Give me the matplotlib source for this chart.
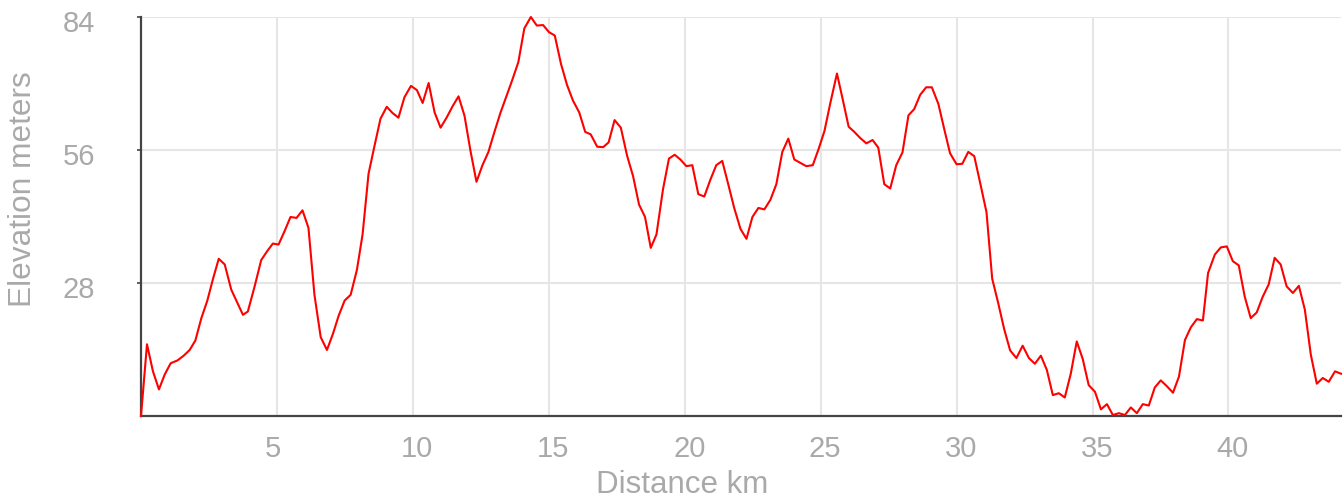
import matplotlib
matplotlib.use("Agg")
import matplotlib.pyplot as plt
from matplotlib.transforms import ScaledTranslation

distance_km = [
    0.0, 0.22, 0.44, 0.66, 0.87, 1.09, 1.34, 1.57, 1.79, 2.0,
    2.22, 2.44, 2.65, 2.86, 3.08, 3.32, 3.54, 3.75, 3.93, 4.18,
    4.42, 4.64, 4.85, 5.06, 5.28, 5.5, 5.72, 5.94, 6.16, 6.38,
    6.61, 6.84, 7.06, 7.27, 7.49, 7.71, 7.94, 8.15, 8.37, 8.59,
    8.81, 9.04, 9.25, 9.47, 9.69, 9.93, 10.15, 10.36, 10.58, 10.8,
    11.02, 11.24, 11.46, 11.68, 11.9, 12.12, 12.34, 12.56, 12.78, 13.0,
    13.22, 13.44, 13.66, 13.88, 14.1, 14.34, 14.56, 14.79, 15.01, 15.22,
    15.45, 15.67, 15.89, 16.12, 16.34, 16.54, 16.78, 17.0, 17.2, 17.42,
    17.65, 17.88, 18.1, 18.32, 18.54, 18.75, 18.96, 19.2, 19.42, 19.63,
    19.84, 20.06, 20.28, 20.5, 20.72, 20.94, 21.16, 21.38, 21.6, 21.82,
    22.05, 22.27, 22.49, 22.71, 22.93, 23.15, 23.37, 23.59, 23.81, 24.03,
    24.25, 24.47, 24.71, 24.93, 25.14, 25.36, 25.6, 25.81, 26.03, 26.24,
    26.46, 26.68, 26.91, 27.12, 27.34, 27.56, 27.78, 28.01, 28.23, 28.44,
    28.66, 28.88, 29.09, 29.33, 29.55, 29.76, 30.0, 30.21, 30.43, 30.65,
    30.87, 31.1, 31.31, 31.53, 31.75, 31.97, 32.2, 32.43, 32.66, 32.88,
    33.1, 33.32, 33.54, 33.76, 33.98, 34.2, 34.42, 34.64, 34.86, 35.09,
    35.31, 35.53, 35.75, 35.97, 36.19, 36.41, 36.63, 36.85, 37.07, 37.29,
    37.51, 37.73, 37.96, 38.18, 38.4, 38.62, 38.84, 39.06, 39.25, 39.5,
    39.72, 39.94, 40.16, 40.38, 40.6, 40.82, 41.04, 41.26, 41.48, 41.7,
    41.92, 42.14, 42.37, 42.59, 42.81, 43.03, 43.25, 43.47, 43.69, 43.92,
    44.14,
]

elevation_m = [
    0.0, 15.1, 9.4, 5.6, 8.7, 11.1, 11.7, 12.7, 13.9, 15.9,
    20.6, 24.3, 28.9, 33.1, 31.9, 26.6, 23.9, 21.3, 22.0, 27.3,
    32.8, 34.7, 36.3, 36.1, 38.9, 41.9, 41.7, 43.3, 39.6, 25.5,
    16.6, 13.9, 17.3, 21.1, 24.3, 25.5, 30.7, 38.2, 51.0, 56.9,
    62.6, 65.1, 63.8, 62.8, 67.1, 69.5, 68.6, 65.9, 70.1, 63.9,
    60.7, 62.8, 65.2, 67.3, 63.2, 55.8, 49.3, 52.8, 55.6, 59.8,
    63.8, 67.3, 70.8, 74.5, 81.6, 84.0, 82.2, 82.3, 80.8, 80.1,
    74.1, 69.7, 66.4, 63.9, 59.8, 59.3, 56.7, 56.6, 57.6, 62.3,
    60.7, 54.8, 50.5, 44.5, 41.9, 35.4, 38.2, 47.7, 54.2, 55.0,
    54.0, 52.6, 52.8, 46.7, 46.2, 49.7, 52.8, 53.7, 48.8, 43.8,
    39.4, 37.3, 41.9, 43.8, 43.5, 45.5, 48.8, 55.6, 58.4, 54.0,
    53.3, 52.6, 52.8, 56.3, 60.0, 66.0, 72.1, 66.7, 60.9, 59.8,
    58.5, 57.4, 58.1, 56.5, 48.8, 47.9, 52.8, 55.5, 63.3, 64.6,
    67.6, 69.2, 69.2, 65.7, 60.3, 55.3, 53.0, 53.1, 55.6, 54.7,
    49.0, 42.9, 28.9, 23.8, 18.3, 13.8, 12.2, 14.8, 12.2, 11.0,
    12.7, 9.7, 4.4, 4.8, 3.9, 8.9, 15.7, 12.0, 6.5, 5.1,
    1.4, 2.5, 0.2, 0.6, 0.2, 1.8, 0.6, 2.5, 2.2, 6.0,
    7.5, 6.3, 4.9, 8.3, 16.0, 18.7, 20.4, 20.1, 30.1, 34.0,
    35.5, 35.7, 32.6, 31.7, 25.1, 20.6, 21.8, 25.1, 27.7, 33.3,
    31.9, 27.3, 25.9, 27.4, 22.4, 12.9, 6.8, 8.0, 7.2, 9.4,
    8.9,
]

x_ticks = [5, 10, 15, 20, 25, 30, 35, 40]
y_ticks = [28, 56, 84]
x_title = "Distance km"
y_title = "Elevation meters"

plt.rcParams['font.family'] = ['Liberation Sans', 'DejaVu Sans']

W, H = 1344, 500
fig = plt.figure(figsize=(W / 100, H / 100), dpi=100)
left, right, top, bottom = 141, 1341, 17, 416
ax = fig.add_axes([left / W, 1 - bottom / H, (right - left) / W, (bottom - top) / H])

ax.plot(distance_km, elevation_m, color='#ff0000', lw=1.5, zorder=3, clip_on=False)

ax.set_xlim(0, 44.14)
ax.set_ylim(0, 84)
ax.set_xticks(x_ticks)
ax.set_yticks(y_ticks)
ax.grid(True, color='#e6e6e6', lw=1.5, zorder=0)
ax.set_axisbelow(True)

for s in ['top', 'right']:
    ax.spines[s].set_visible(False)
for s in ['left', 'bottom']:
    ax.spines[s].set_color('#444444')
    ax.spines[s].set_linewidth(1.6)

grey = '#a9a9ab'
ax.tick_params(axis='x', length=0, pad=14, labelsize=21, labelcolor=grey)
ax.tick_params(axis='y', length=3, width=1.2, color='#444444', pad=30,
               labelsize=21, labelcolor=grey)

# small pixel nudges of the tick labels to match the reference placement
for lab, v in zip(ax.get_xticklabels(), x_ticks):
    dx = -4 if v < 10 else 4.5
    lab.set_transform(lab.get_transform() + ScaledTranslation(dx / 100, 0, fig.dpi_scale_trans))
for lab in ax.get_yticklabels():
    lab.set_transform(lab.get_transform() + ScaledTranslation(0, -4 / 100, fig.dpi_scale_trans))

fig.text(682 / W, 1 - 485 / H, x_title, ha='center', va='center', fontsize=22.5, color=grey)
fig.text(23 / W, 1 - 189 / H, y_title, ha='center', va='center', rotation=90,
         fontsize=22.8, color=grey)

fig.savefig('out.png', dpi=100)
